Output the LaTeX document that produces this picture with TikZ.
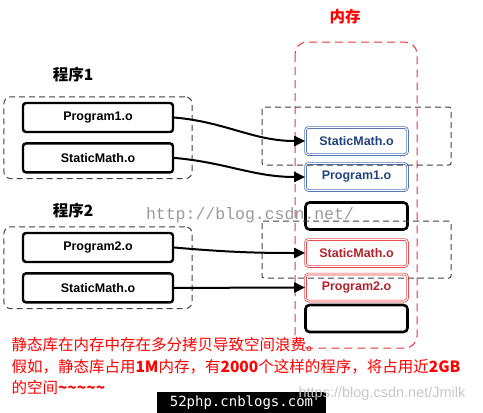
\documentclass[tikz,border=0pt]{standalone}
\usepackage{fontspec}
\setmainfont{Liberation Sans}
\newfontfamily\cjk{Noto Sans CJK SC}
\newfontfamily\wmmono{Liberation Mono}
\newfontfamily\blkmono{DejaVu Sans Mono}
\usepackage{xcolor}
\usepackage{tikz}
\usetikzlibrary{arrows.meta, positioning, fit}
\definecolor{memblue}{HTML}{3F63AE}
\definecolor{memblutext}{HTML}{24427F}
\definecolor{memred}{HTML}{E8353A}
\definecolor{memredtext}{HTML}{B0222C}
\tikzstyle{objbox}   = [rectangle, rounded corners=3pt, draw=black, line width=2.4pt, minimum width=150pt, minimum height=29pt, text centered, font=\bfseries\fontsize{12.5}{14}\selectfont]
\tikzstyle{slotbox}  = [rectangle, rounded corners=3pt, line width=0.7pt, double=white, double distance=1.1pt, minimum width=102pt, minimum height=27pt, text centered, font=\bfseries\fontsize{12.5}{14}\selectfont]
\tikzstyle{slotblue} = [slotbox, draw=memblue, text=memblutext]
\tikzstyle{slotred}  = [slotbox, draw=memred, text=memredtext]
\tikzstyle{slotfree} = [rectangle, rounded corners=4pt, draw=black, line width=2.6pt, minimum width=102pt, minimum height=27pt]
\tikzstyle{groupbox} = [draw=black!75, line width=1pt, dash pattern=on 6pt off 4pt, rounded corners=7pt]
\tikzstyle{membox}   = [draw=memred, line width=1pt, dash pattern=on 8pt off 5pt, rounded corners=12pt]
\tikzstyle{title}    = [font=\cjk\bfseries\fontsize{15.5}{17}\selectfont]
\tikzstyle{arrow}    = [line width=2pt, -{Triangle[length=11pt,width=10pt]}]

\begin{document}
\begin{tikzpicture}[x=1pt, y=-1pt]
    \useasboundingbox (0,0) rectangle (483,413);

    % memory
    \node (memtitle) [title, text=red] at (345,17) {内存};
    \draw [membox] (295,42) rectangle (417,348);

    % program 1
    \node (prog1) [title] at (73,75) {程序1};
    \node (p1) [objbox] at (98,117.5) {Program1.o};
    \node (s1) [objbox, below=9pt of p1] {StaticMath.o};
    \node (g1) [groupbox, fit=(p1)(s1), inner xsep=18pt, inner ysep=5pt] {};

    % program 2
    \node (prog2) [title] at (73,211) {程序2};
    \node (p2) [objbox] at (98,247.5) {Program2.o};
    \node (s2) [objbox, below=9pt of p2] {StaticMath.o};
    \node (g2) [groupbox, fit=(p2)(s2), inner xsep=18pt, inner ysep=5pt] {};

    % memory slots
    \node (m1) [slotblue] at (356.5,141)   {StaticMath.o};
    \node (m2) [slotblue] at (356.5,177)   {Program1.o};
    \node (m3) [slotfree] at (356.5,216)   {};
    \node (m4) [slotred]  at (356.5,253)   {StaticMath.o};
    \node (m5) [slotred]  at (356.5,287.5) {Program2.o};
    \node (m6) [slotfree] at (356.5,318.5) {};

    % process images in memory
    \draw [groupbox, rounded corners=2pt] (262,107) rectangle (451,165);
    \draw [groupbox, rounded corners=2pt] (262,221) rectangle (451,278);

    \draw [arrow] (p1.east) to[out=-5, in=180] (m1.west);
    \draw [arrow] (s1.east) to[out=-5, in=180] (m2.west);
    \draw [arrow] (p2.east) to[out=-5, in=180] (m4.west);
    \draw [arrow] (s2.east) to[out=0, in=180]  (m5.west);

    % note
    \node (note) [anchor=north west, align=left, text=red, font=\cjk\fontsize{15.5}{21.5}\selectfont] at (8,334)
        {静态库在内存中存在多分拷贝导致空间浪费。\\
         假如，静态库占用\textbf{1M}内存，有\textbf{2000}个这样的程序，将占用近\textbf{2GB}\\
         的空间\textbf{\char`\~\char`\~\char`\~\char`\~\char`\~}};

    % watermarks
    \node (wm1) [text=black!40, font=\wmmono\fontsize{16.5}{18}\selectfont] at (250,215) {http://blog.csdn.net/};
    \node (wm2) [fill=black, text=white, anchor=south, minimum width=169pt, minimum height=21pt, inner sep=0pt, font=\blkmono\fontsize{14}{16}\selectfont] at (241.5,413) {52php.cnblogs.com};
    \node (wm3) [text=black!22, font=\fontsize{14.5}{16}\selectfont] at (382,394) {https://blog.csdn.net/Jmilk};
\end{tikzpicture}
\end{document}
